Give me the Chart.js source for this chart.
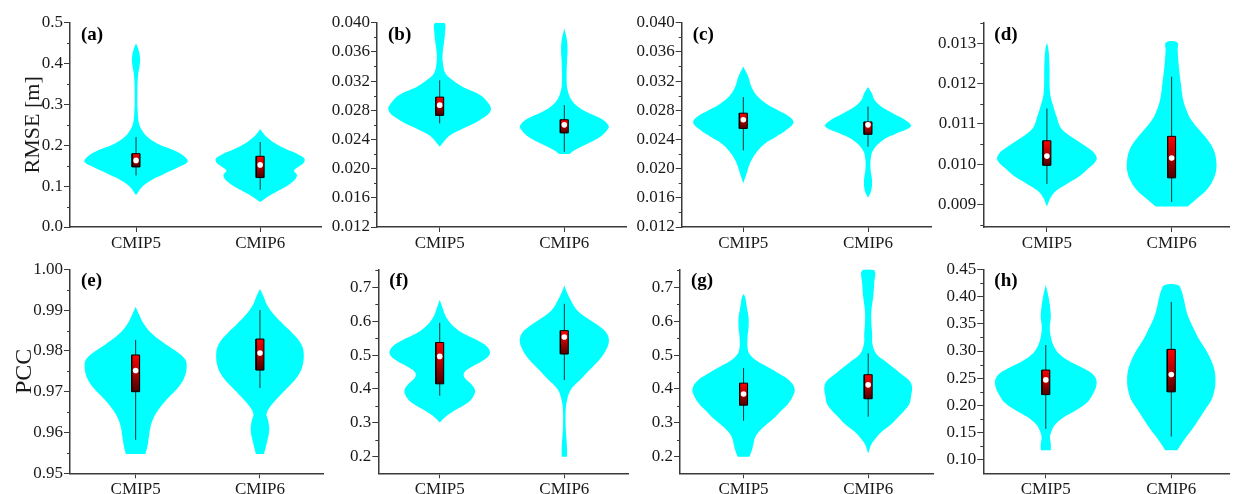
<!DOCTYPE html>
<html>
<head>
<meta charset="utf-8">
<script src="https://cdn.jsdelivr.net/npm/chart.js@4.4.1/dist/chart.umd.min.js"></script>
<style>
  html, body { margin: 0; padding: 0; background: #fff; }
  #wrap { position: relative; width: 1233px; height: 494px; overflow: hidden; }
  #wrap canvas { position: absolute; }
</style>
</head>
<body>
<div id="wrap"></div>
<script>
const categories = ['CMIP5', 'CMIP6'];
const panelNames = ['(a)', '(b)', '(c)', '(d)', '(e)', '(f)', '(g)', '(h)'];
const yTitles = ['RMSE [m]', '', '', '', 'PCC', '', '', ''];

// violin outlines: y levels and half widths (in category units)
const vA5y = [0.078, 0.098, 0.114, 0.130, 0.147, 0.159, 0.171, 0.188, 0.204, 0.220, 0.237, 0.253, 0.286, 0.33, 0.37, 0.395, 0.415, 0.435, 0.45];
const vA5w = [0, 0.048, 0.119, 0.225, 0.344, 0.415, 0.397, 0.304, 0.172, 0.093, 0.048, 0.024, 0.013, 0.011, 0.016, 0.029, 0.032, 0.019, 0];
const vA6y = [0.061, 0.08, 0.10, 0.115, 0.127, 0.138, 0.148, 0.158, 0.167, 0.177, 0.19, 0.205, 0.22, 0.232, 0.24];
const vA6w = [0, 0.093, 0.212, 0.278, 0.296, 0.272, 0.312, 0.352, 0.357, 0.312, 0.212, 0.119, 0.053, 0.019, 0];

const vB5y = [0.023, 0.0241, 0.0248, 0.0257, 0.0266, 0.0280, 0.0294, 0.0303, 0.0312, 0.0321, 0.0330, 0.0344, 0.0358, 0.0372, 0.0385, 0.040];
const vB5w = [0, 0.053, 0.106, 0.212, 0.317, 0.41, 0.37, 0.304, 0.185, 0.106, 0.048, 0.026, 0.024, 0.034, 0.042, 0.037];
const vB6y = [0.022, 0.0225, 0.0234, 0.0244, 0.0253, 0.0258, 0.0266, 0.0273, 0.0282, 0.0294, 0.0308, 0.032, 0.0345, 0.0362, 0.0376, 0.0392];
const vB6w = [0.04, 0.079, 0.185, 0.291, 0.344, 0.357, 0.317, 0.238, 0.132, 0.058, 0.026, 0.019, 0.021, 0.026, 0.021, 0];

const vC5y = [0.018, 0.0193, 0.0207, 0.0221, 0.0234, 0.0244, 0.0253, 0.0263, 0.0271, 0.028, 0.0289, 0.0298, 0.0312, 0.0326, 0.034];
const vC5w = [0, 0.026, 0.053, 0.1, 0.172, 0.265, 0.344, 0.402, 0.37, 0.278, 0.185, 0.119, 0.066, 0.04, 0];
const vC6y = [0.016, 0.017, 0.0184, 0.0198, 0.0212, 0.0225, 0.0239, 0.0248, 0.0258, 0.0266, 0.0276, 0.0285, 0.0294, 0.0303, 0.0312];
const vC6w = [0, 0.026, 0.032, 0.021, 0.021, 0.04, 0.119, 0.225, 0.344, 0.304, 0.198, 0.106, 0.053, 0.032, 0];

const vD5y = [0.00895, 0.00918, 0.00935, 0.00951, 0.00968, 0.00985, 0.0101, 0.01026, 0.01043, 0.01059, 0.01076, 0.01093, 0.01117, 0.01142, 0.01176, 0.01242, 0.01283, 0.01302];
const vD5w = [0, 0.032, 0.079, 0.159, 0.251, 0.317, 0.397, 0.384, 0.317, 0.238, 0.159, 0.106, 0.079, 0.053, 0.026, 0.021, 0.013, 0];
const vD6y = [0.00895, 0.0091, 0.00935, 0.0096, 0.00985, 0.0101, 0.01034, 0.01059, 0.01084, 0.01109, 0.01134, 0.01159, 0.012, 0.01242, 0.01283, 0.01302];
const vD6w = [0.127, 0.185, 0.278, 0.331, 0.357, 0.357, 0.339, 0.291, 0.225, 0.159, 0.119, 0.093, 0.074, 0.058, 0.048, 0.045];

const vE5y = [0.9547, 0.9564, 0.9588, 0.9613, 0.9637, 0.9662, 0.9686, 0.9711, 0.9735, 0.976, 0.978, 0.9801, 0.9817, 0.9842, 0.9866, 0.9886, 0.9908];
const vE5w = [0.079, 0.093, 0.106, 0.119, 0.146, 0.198, 0.265, 0.344, 0.392, 0.41, 0.397, 0.317, 0.238, 0.132, 0.066, 0.032, 0];
const vE6y = [0.9547, 0.9572, 0.9605, 0.9629, 0.9645, 0.9662, 0.9686, 0.9711, 0.9735, 0.976, 0.9793, 0.9817, 0.9842, 0.9866, 0.9891, 0.9915, 0.9931, 0.9952];
const vE6w = [0.032, 0.053, 0.074, 0.066, 0.053, 0.079, 0.146, 0.225, 0.296, 0.339, 0.352, 0.331, 0.265, 0.185, 0.106, 0.053, 0.032, 0];

const vF5y = [0.301, 0.316, 0.336, 0.356, 0.375, 0.395, 0.415, 0.434, 0.449, 0.464, 0.483, 0.503, 0.523, 0.543, 0.562, 0.582, 0.611, 0.641, 0.663];
const vF5w = [0, 0.04, 0.119, 0.212, 0.265, 0.283, 0.251, 0.198, 0.198, 0.251, 0.344, 0.402, 0.384, 0.304, 0.198, 0.119, 0.053, 0.021, 0];
const vF6y = [0.20, 0.228, 0.257, 0.287, 0.336, 0.365, 0.395, 0.415, 0.434, 0.454, 0.474, 0.493, 0.513, 0.538, 0.562, 0.582, 0.602, 0.631, 0.661, 0.685, 0.705];
const vF6w = [0.021, 0.021, 0.016, 0.011, 0.011, 0.021, 0.048, 0.093, 0.146, 0.198, 0.251, 0.296, 0.331, 0.357, 0.344, 0.291, 0.212, 0.106, 0.053, 0.021, 0];

const vG5y = [0.20, 0.218, 0.237, 0.257, 0.277, 0.296, 0.316, 0.336, 0.356, 0.38, 0.40, 0.424, 0.444, 0.464, 0.483, 0.503, 0.523, 0.552, 0.582, 0.611, 0.641, 0.671, 0.68];
const vG5w = [0.048, 0.066, 0.079, 0.093, 0.132, 0.185, 0.251, 0.304, 0.357, 0.397, 0.41, 0.37, 0.291, 0.198, 0.106, 0.048, 0.032, 0.032, 0.04, 0.04, 0.026, 0.013, 0];
const vG6y = [0.21, 0.237, 0.257, 0.277, 0.296, 0.316, 0.336, 0.356, 0.38, 0.405, 0.424, 0.444, 0.464, 0.483, 0.503, 0.533, 0.562, 0.592, 0.631, 0.671, 0.71, 0.75];
const vG6w = [0, 0.026, 0.066, 0.119, 0.185, 0.238, 0.291, 0.331, 0.344, 0.352, 0.331, 0.265, 0.198, 0.132, 0.066, 0.034, 0.032, 0.026, 0.026, 0.04, 0.048, 0.048];

const vH5y = [0.118, 0.129, 0.142, 0.154, 0.166, 0.179, 0.191, 0.203, 0.219, 0.24, 0.255, 0.268, 0.28, 0.292, 0.308, 0.326, 0.344, 0.363, 0.381, 0.40, 0.421];
const vH5w = [0.04, 0.04, 0.034, 0.048, 0.079, 0.146, 0.238, 0.317, 0.37, 0.405, 0.384, 0.304, 0.198, 0.119, 0.066, 0.04, 0.032, 0.04, 0.034, 0.021, 0];
const vH6y = [0.118, 0.129, 0.142, 0.154, 0.172, 0.191, 0.209, 0.228, 0.246, 0.265, 0.283, 0.301, 0.32, 0.338, 0.357, 0.375, 0.394, 0.412, 0.421];
const vH6w = [0.048, 0.079, 0.119, 0.159, 0.212, 0.265, 0.317, 0.344, 0.352, 0.344, 0.317, 0.278, 0.225, 0.185, 0.146, 0.119, 0.101, 0.079, 0.053];

// box statistics per panel, [CMIP5, CMIP6]
const q1 = [[0.147, 0.121], [0.0273, 0.0249], [0.0255, 0.0247], [0.00997, 0.00966], [0.970, 0.9753], [0.415, 0.503], [0.352, 0.371], [0.220, 0.225]];
const q3 = [[0.1795, 0.173], [0.0298, 0.0267], [0.0276, 0.0264], [0.01058, 0.01069], [0.979, 0.9829], [0.537, 0.572], [0.417, 0.442], [0.265, 0.303]];
const medians = [[0.163, 0.152], [0.0287, 0.0260], [0.0267, 0.0260], [0.0102, 0.01015], [0.9752, 0.9795], [0.496, 0.553], [0.385, 0.412], [0.247, 0.257]];
const whiskerLo = [[0.126, 0.091], [0.0262, 0.0223], [0.0225, 0.0230], [0.00951, 0.00906], [0.9582, 0.9709], [0.380, 0.426], [0.306, 0.318], [0.157, 0.143]];
const whiskerHi = [[0.220, 0.208], [0.0321, 0.0287], [0.0298, 0.0285], [0.01138, 0.01217], [0.9827, 0.990], [0.595, 0.651], [0.462, 0.505], [0.311, 0.390]];

// y tick labels
const ticksA = [0.0, 0.1, 0.2, 0.3, 0.4, 0.5];
const ticksB = [0.012, 0.016, 0.020, 0.024, 0.028, 0.032, 0.036, 0.040];
const ticksC = [0.012, 0.016, 0.020, 0.024, 0.028, 0.032, 0.036, 0.040];
const ticksD = [0.009, 0.010, 0.011, 0.012, 0.013];
const ticksE = [0.95, 0.96, 0.97, 0.98, 0.99, 1.00];
const ticksF = [0.2, 0.3, 0.4, 0.5, 0.6, 0.7];
const ticksG = [0.2, 0.3, 0.4, 0.5, 0.6, 0.7];
const ticksH = [0.10, 0.15, 0.20, 0.25, 0.30, 0.35, 0.40, 0.45];

const violins = [
  [[vA5y, vA5w], [vA6y, vA6w]], [[vB5y, vB5w], [vB6y, vB6w]],
  [[vC5y, vC5w], [vC6y, vC6w]], [[vD5y, vD5w], [vD6y, vD6w]],
  [[vE5y, vE5w], [vE6y, vE6w]], [[vF5y, vF5w], [vF6y, vF6w]],
  [[vG5y, vG5w], [vG6y, vG6w]], [[vH5y, vH5w], [vH6y, vH6w]]
];

// layout of the 8 panels
const panels = [
  { left: 0,   top: 0,   w: 325, h: 252, yW: 70,   padTop: 22.7, xH: 25,   xMin: 0.468, xMax: 2.49,  yMin: 0,       yMax: 0.5,     dec: 1, ticks: ticksA, tSize: 22, tPad: 20 },
  { left: 325, top: 0,   w: 305, h: 252, yW: 52,   padTop: 22.7, xH: 25,   xMin: 0.497, xMax: 2.495, yMin: 0.012,   yMax: 0.040,   dec: 3, ticks: ticksB },
  { left: 630, top: 0,   w: 305, h: 252, yW: 51.7, padTop: 22.7, xH: 25,   xMin: 0.506, xMax: 2.505, yMin: 0.012,   yMax: 0.040,   dec: 3, ticks: ticksC },
  { left: 935, top: 0,   w: 298, h: 252, yW: 48.3, padTop: 22.7, xH: 25,   xMin: 0.49,  xMax: 2.46,  yMin: 0.00844, yMax: 0.01351, dec: 3, ticks: ticksD },
  { left: 0,   top: 244, w: 327, h: 250, yW: 70,   padTop: 25.3, xH: 20.7, xMin: 0.472, xMax: 2.507, yMin: 0.95,    yMax: 1.00,    dec: 2, ticks: ticksE, tSize: 24, tPad: 10 },
  { left: 327, top: 244, w: 305, h: 250, yW: 51.3, padTop: 25.3, xH: 20.7, xMin: 0.507, xMax: 2.511, yMin: 0.151,   yMax: 0.753,   dec: 1, ticks: ticksF },
  { left: 632, top: 244, w: 305, h: 250, yW: 48,   padTop: 25.3, xH: 20.7, xMin: 0.49,  xMax: 2.52,  yMin: 0.151,   yMax: 0.753,   dec: 1, ticks: ticksG },
  { left: 937, top: 244, w: 296, h: 250, yW: 46.3, padTop: 25.3, xH: 20.7, xMin: 0.502, xMax: 2.46,  yMin: 0.0755,  yMax: 0.45,    dec: 2, ticks: ticksH }
];

const SERIF = "'Liberation Serif', 'Times New Roman', serif";
const TEXT = '#1a1a1a';
const AXIS = '#3a3a3a';
const BOX_HALF = 0.032;

function violinPoints(cx, ys, ws) {
  const pts = [];
  for (let i = 0; i < ys.length; i++) pts.push({ x: cx + ws[i], y: ys[i] });
  for (let i = ys.length - 1; i >= 0; i--) pts.push({ x: cx - ws[i], y: ys[i] });
  return pts;
}

function boxPoints(cx, lo, hi) {
  return [
    { x: cx - BOX_HALF, y: lo }, { x: cx + BOX_HALF, y: lo },
    { x: cx + BOX_HALF, y: hi }, { x: cx - BOX_HALF, y: hi },
    { x: cx - BOX_HALF, y: lo }
  ];
}

function boxGradient(lo, hi) {
  return (context) => {
    const chart = context.chart;
    if (!chart.chartArea) return '#a00000';
    const ys = chart.scales.y;
    const g = chart.ctx.createLinearGradient(0, ys.getPixelForValue(hi), 0, ys.getPixelForValue(lo));
    g.addColorStop(0, '#ff0000');
    g.addColorStop(0.5, '#b00000');
    g.addColorStop(1, '#4a0000');
    return g;
  };
}

const panelLabel = {
  id: 'panelLabel',
  afterDraw(chart, args, opts) {
    const { ctx, chartArea } = chart;
    ctx.save();
    ctx.font = 'bold 19px ' + SERIF;
    ctx.fillStyle = '#000';
    ctx.textBaseline = 'middle';
    ctx.textAlign = 'left';
    ctx.fillText(opts.text, chartArea.left + 11, chartArea.top + 12);
    ctx.restore();
  }
};

const minorTicks = {
  id: 'minorTicks',
  afterDraw(chart, args, opts) {
    const ys = chart.scales.y;
    const ctx = chart.ctx;
    ctx.save();
    ctx.strokeStyle = AXIS;
    ctx.lineWidth = 1;
    opts.values.forEach(v => {
      const py = Math.round(ys.getPixelForValue(v)) + 0.5;
      ctx.beginPath();
      ctx.moveTo(ys.right, py);
      ctx.lineTo(ys.right - 3, py);
      ctx.stroke();
    });
    ctx.restore();
  }
};

const wrap = document.getElementById('wrap');

panels.forEach((p, k) => {
  const canvas = document.createElement('canvas');
  canvas.width = p.w;
  canvas.height = p.h;
  canvas.style.left = p.left + 'px';
  canvas.style.top = p.top + 'px';
  wrap.appendChild(canvas);

  // minor ticks halfway between the labelled ones
  const step = p.ticks[1] - p.ticks[0];
  const minors = [];
  for (let i = -1; i < p.ticks.length; i++) {
    const v = (i < 0 ? p.ticks[0] - step : p.ticks[i]) + step / 2;
    if (v > p.yMin && v < p.yMax) minors.push(v);
  }

  const datasets = [];
  [1, 2].forEach((cx, j) => {
    const [ys, ws] = violins[k][j];
    datasets.push({
      data: violinPoints(cx, ys, ws), showLine: true, fill: 'shape',
      backgroundColor: '#00ffff', borderWidth: 0, pointRadius: 0, tension: 0.4, order: 4
    });
    datasets.push({
      data: [{ x: cx, y: whiskerLo[k][j] }, { x: cx, y: whiskerHi[k][j] }], showLine: true,
      borderColor: '#203030', borderWidth: 1, pointRadius: 0, order: 3
    });
    datasets.push({
      data: boxPoints(cx, q1[k][j], q3[k][j]), showLine: true, fill: 'shape',
      backgroundColor: boxGradient(q1[k][j], q3[k][j]), borderColor: '#000', borderWidth: 1,
      pointRadius: 0, tension: 0, order: 2
    });
    datasets.push({
      data: [{ x: cx, y: medians[k][j] }], showLine: false,
      pointRadius: 2.8, pointBackgroundColor: '#fff', pointBorderWidth: 0, order: 1
    });
  });

  new Chart(canvas, {
    type: 'scatter',
    data: { datasets },
    plugins: [panelLabel, minorTicks],
    options: {
      responsive: false,
      animation: false,
      devicePixelRatio: 1,
      layout: { padding: { top: p.padTop, left: 0, right: 0, bottom: 0 } },
      plugins: {
        legend: { display: false },
        tooltip: { enabled: false },
        panelLabel: { text: panelNames[k] },
        minorTicks: { values: minors }
      },
      scales: {
        x: {
          type: 'linear', min: p.xMin, max: p.xMax,
          afterBuildTicks: s => { s.ticks = [{ value: 1 }, { value: 2 }]; },
          afterFit: s => { s.height = p.xH; },
          ticks: {
            callback: v => categories[Math.round(v) - 1] || '',
            font: { family: SERIF, size: 17 }, color: TEXT, padding: 1, maxRotation: 0, autoSkip: false
          },
          grid: { drawOnChartArea: false, drawTicks: true, tickLength: 5, color: AXIS, lineWidth: 1 },
          border: { display: true, color: AXIS, width: 1.5 }
        },
        y: {
          type: 'linear', min: p.yMin, max: p.yMax,
          afterBuildTicks: s => { s.ticks = p.ticks.map(v => ({ value: v })); },
          afterFit: s => { s.width = p.yW; },
          ticks: {
            callback: v => Number(v).toFixed(p.dec),
            font: { family: SERIF, size: 17 }, color: TEXT, padding: 1, autoSkip: false
          },
          title: {
            display: !!yTitles[k], text: yTitles[k],
            font: { family: SERIF, size: p.tSize || 22 }, color: TEXT, padding: { top: p.tPad || 0, bottom: 0 }
          },
          grid: { drawOnChartArea: false, drawTicks: true, tickLength: 6, color: AXIS, lineWidth: 1 },
          border: { display: true, color: AXIS, width: 1.5 }
        }
      }
    }
  });
});
</script>
</body>
</html>
